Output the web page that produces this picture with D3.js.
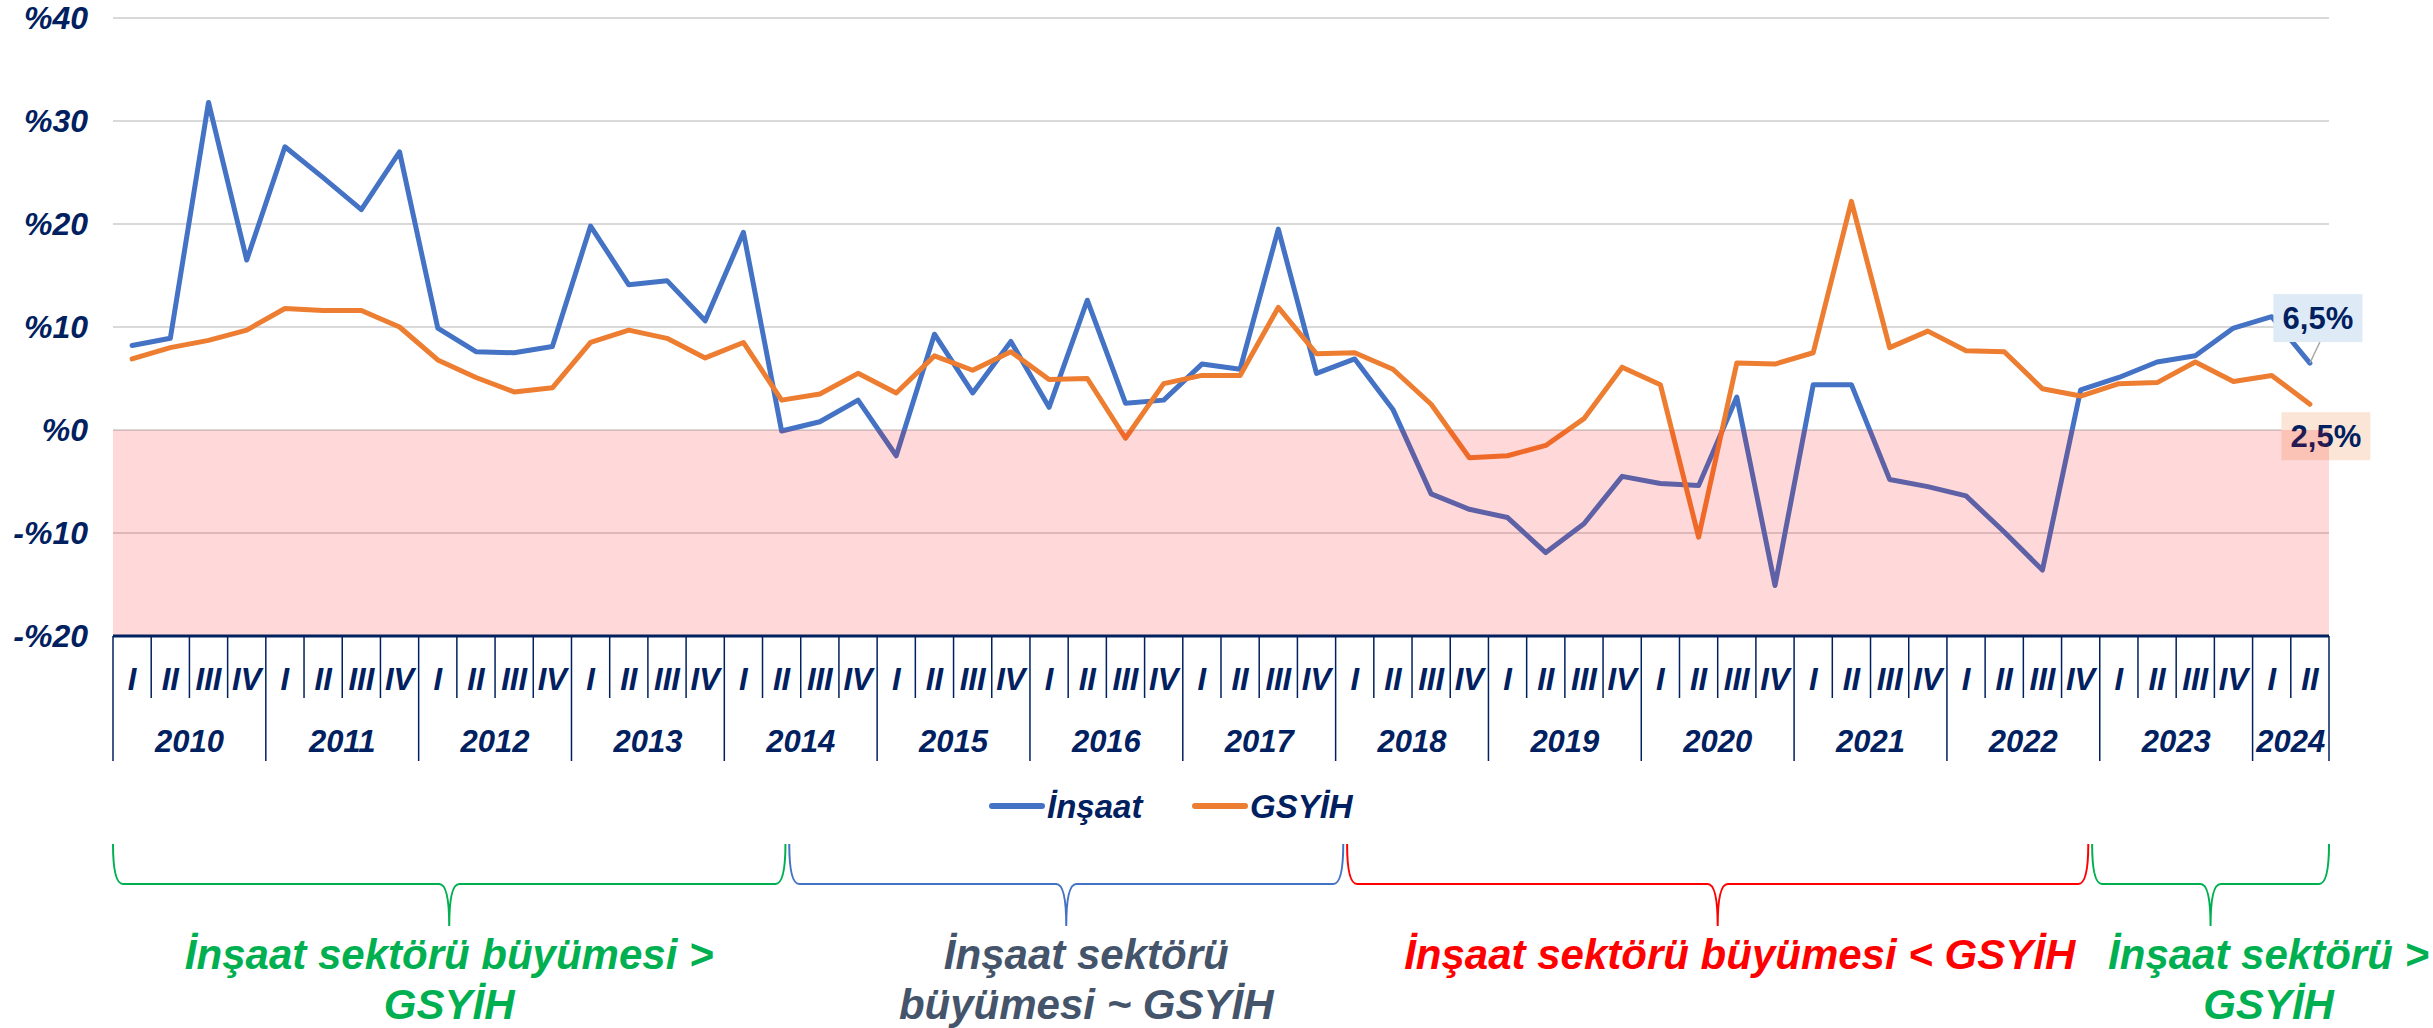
<!DOCTYPE html>
<html>
<head>
<meta charset="utf-8">
<script src="https://cdn.jsdelivr.net/npm/d3@7"></script>
<style>
  body { margin: 0; background: #fff; }
  text { font-family: "Liberation Sans", Arial, sans-serif; font-weight: bold; }
</style>
</head>
<body>
<div id="chart"></div>
<script>
// data (quarterly growth, %)
var years = ["2010", "2011", "2012", "2013", "2014", "2015", "2016", "2017", "2018", "2019", "2020", "2021", "2022", "2023", "2024"];
var quarters = ["I", "II", "III", "IV"];
var insaat = [8.2, 8.9, 31.8, 16.5,
    27.5, 24.5, 21.4, 27.0,
    9.9, 7.6, 7.5, 8.1,
    19.8, 14.1, 14.5, 10.6,
    19.2, -0.1, 0.8, 2.9,
    -2.5, 9.3, 3.6, 8.6,
    2.2, 12.6, 2.6, 2.9,
    6.4, 5.9, 19.5, 5.5,
    6.9, 2.0, -6.2, -7.7,
    -8.5, -11.9, -9.1, -4.5,
    -5.2, -5.4, 3.2, -15.1,
    4.4, 4.4, -4.8, -5.5,
    -6.4, -9.9, -13.6, 3.9,
    5.1, 6.6, 7.2, 9.9,
    11.0, 6.5];
var gsyih = [6.9, 8.0, 8.7, 9.7,
    11.8, 11.6, 11.6, 10.0,
    6.8, 5.1, 3.7, 4.1,
    8.5, 9.7, 8.9, 7.0,
    8.5, 2.9, 3.5, 5.5,
    3.6, 7.2, 5.8, 7.6,
    4.9, 5.0, -0.8, 4.5,
    5.3, 5.3, 11.9, 7.4,
    7.5, 5.9, 2.5, -2.7,
    -2.5, -1.5, 1.1, 6.1,
    4.4, -10.4, 6.5, 6.4,
    7.5, 22.2, 8.0, 9.6,
    7.7, 7.6, 4.0, 3.3,
    4.5, 4.6, 6.6, 4.7,
    5.3, 2.5];
var seriesNames = ["İnşaat", "GSYİH"];
var lastLabels = ["6,5%", "2,5%"];
var yTicks = [-20, -10, 0, 10, 20, 30, 40];

// phases under the chart (in quarter units along the x axis)
var phaseLines = [["İnşaat sektörü büyümesi >", "GSYİH"],
    ["İnşaat sektörü", "büyümesi ~ GSYİH"],
    ["İnşaat sektörü büyümesi < GSYİH"],
    ["İnşaat sektörü >", "GSYİH"]];
var phaseFrom = [0, 17.7, 32.3, 51.8];
var phaseTo = [17.6, 32.2, 51.7, 58];

var width = 2433, height = 1028;
var plot = { left: 113, right: 2329, top: 18, bottom: 636 };
var navy = "#002060";
var colors = ["#4472C4", "#ED7D31"];
var phaseColors = ["#00B050", "#4472C4", "#FF0000", "#00B050"];
var phaseTextColors = ["#00B050", "#44546A", "#FF0000", "#00B050"];
var phaseTextShift = [0, 20, 22, 58];

var svg = d3.select("#chart")
    .append("svg")
    .attr("width", width)
    .attr("height", height);

var cats = insaat.map(function (d, i) {
    return { year: years[Math.floor(i / 4)], q: quarters[i % 4] };
});

var x = d3.scaleBand()
    .domain(d3.range(insaat.length))
    .range([plot.left, plot.right]);
var bw = x.bandwidth();
var y = d3.scaleLinear()
    .domain([-20, 40])
    .range([plot.bottom, plot.top]);

// gridlines
svg.selectAll("grid")
    .data(yTicks.filter(function (d) { return d > -20; }))
    .enter()
    .append("line")
    .attr("x1", plot.left)
    .attr("x2", plot.right)
    .attr("y1", function (d) { return y(d); })
    .attr("y2", function (d) { return y(d); })
    .attr("stroke", "#d9d9d9")
    .attr("stroke-width", 2);

// Y axis labels
var yAxis = svg.append("g")
    .attr("transform", "translate(" + plot.left + ",0)")
    .call(d3.axisLeft(y)
        .tickValues(yTicks)
        .tickSize(0)
        .tickPadding(25)
        .tickFormat(function (d) { return (d < 0 ? "-" : "") + "%" + Math.abs(d); }));
yAxis.select(".domain").remove();
yAxis.selectAll("text")
    .style("font-size", "32px")
    .style("font-style", "italic")
    .style("font-family", "'Liberation Sans', Arial, sans-serif")
    .style("font-weight", "bold")
    .attr("fill", navy);

// the two lines
var line = d3.line()
    .x(function (d, i) { return x(i) + bw / 2; })
    .y(function (d) { return y(d); });
var series = [insaat, gsyih];
svg.selectAll("myLines")
    .data(series)
    .enter()
    .append("path")
    .attr("d", function (d) { return line(d); })
    .attr("stroke", function (d, i) { return colors[i]; })
    .style("stroke-width", 5)
    .style("stroke-linejoin", "round")
    .style("stroke-linecap", "round")
    .style("fill", "none");

// labels on the last point
var last = insaat.length - 1;
var px = x(last) + bw / 2;
var boxOffset = [[8, -45], [16, 32]];
var boxFill = ["#DEEBF7", "#FBE5D6"];
series.forEach(function (s, i) {
    var py = y(s[last]);
    var cx = px + boxOffset[i][0], cy = py + boxOffset[i][1];
    if (i === 0) {
        svg.append("line")
            .attr("x1", cx + 2).attr("y1", cy + 24)
            .attr("x2", px).attr("y2", py)
            .attr("stroke", "#a6a6a6")
            .attr("stroke-width", 1.5);
    }
    svg.append("rect")
        .attr("x", cx - 44.5).attr("y", cy - 24)
        .attr("width", 89).attr("height", 48)
        .attr("fill", boxFill[i]);
    svg.append("text")
        .attr("x", cx).attr("y", cy + 11)
        .attr("text-anchor", "middle")
        .style("font-size", "31px")
        .attr("fill", navy)
        .text(lastLabels[i]);
});

// negative zone (drawn over the lines, like the original)
svg.append("rect")
    .attr("x", plot.left)
    .attr("y", y(0))
    .attr("width", plot.right - plot.left)
    .attr("height", y(-20) - y(0))
    .attr("fill", "#ff0000")
    .attr("fill-opacity", 0.15);

// X axis: quarters and years
svg.append("line")
    .attr("x1", plot.left).attr("x2", plot.right)
    .attr("y1", y(-20)).attr("y2", y(-20))
    .attr("stroke", navy)
    .attr("stroke-width", 3);

svg.selectAll("sep")
    .data(d3.range(insaat.length + 1))
    .enter()
    .append("line")
    .attr("x1", function (i) { return plot.left + i * bw; })
    .attr("x2", function (i) { return plot.left + i * bw; })
    .attr("y1", y(-20))
    .attr("y2", function (i) { return (i % 4 === 0 || i === insaat.length) ? 761 : 698; })
    .attr("stroke", navy)
    .attr("stroke-width", 1.5);

svg.selectAll("qLabel")
    .data(cats)
    .enter()
    .append("text")
    .attr("x", function (d, i) { return x(i) + bw / 2; })
    .attr("y", 690)
    .attr("text-anchor", "middle")
    .style("font-size", "31px")
    .style("font-style", "italic")
    .attr("fill", navy)
    .text(function (d) { return d.q; });

svg.selectAll("yLabel")
    .data(years)
    .enter()
    .append("text")
    .attr("x", function (d, j) {
        var first = j * 4, lastQ = Math.min(j * 4 + 3, insaat.length - 1);
        return (x(first) + x(lastQ) + bw) / 2;
    })
    .attr("y", 752)
    .attr("text-anchor", "middle")
    .style("font-size", "31px")
    .style("font-style", "italic")
    .attr("fill", navy)
    .text(function (d) { return d; });

// legend
var legX = [989, 1192];
seriesNames.forEach(function (name, i) {
    svg.append("line")
        .attr("x1", legX[i] + 3).attr("x2", legX[i] + 53)
        .attr("y1", 806).attr("y2", 806)
        .attr("stroke", colors[i])
        .attr("stroke-width", 6)
        .attr("stroke-linecap", "round");
    svg.append("text")
        .attr("x", legX[i] + 58)
        .attr("y", 818)
        .style("font-size", "33px")
        .style("font-style", "italic")
        .attr("fill", navy)
        .text(name);
});

// braces and phase texts
var braceTop = 844, braceMid = 884, braceTip = 926, r = 10;
var qx = function (v) { return plot.left + v * bw; };
phaseLines.forEach(function (lines, i) {
    var x0 = qx(phaseFrom[i]), x1 = qx(phaseTo[i]), xm = (x0 + x1) / 2;
    var p = "M" + x0 + "," + braceTop +
        " Q" + x0 + "," + braceMid + " " + (x0 + r) + "," + braceMid +
        " L" + (xm - r) + "," + braceMid +
        " Q" + xm + "," + braceMid + " " + xm + "," + braceTip +
        " Q" + xm + "," + braceMid + " " + (xm + r) + "," + braceMid +
        " L" + (x1 - r) + "," + braceMid +
        " Q" + x1 + "," + braceMid + " " + x1 + "," + braceTop;
    svg.append("path")
        .attr("d", p)
        .attr("fill", "none")
        .attr("stroke", phaseColors[i])
        .attr("stroke-width", 2);
    svg.selectAll(".phase" + i)
        .data(lines)
        .enter()
        .append("text")
        .attr("x", xm + phaseTextShift[i])
        .attr("y", function (d, k) { return 969 + k * 50; })
        .attr("text-anchor", "middle")
        .style("font-size", "42px")
        .style("font-style", "italic")
        .attr("fill", phaseTextColors[i])
        .text(function (d) { return d; });
});
</script>
</body>
</html>
